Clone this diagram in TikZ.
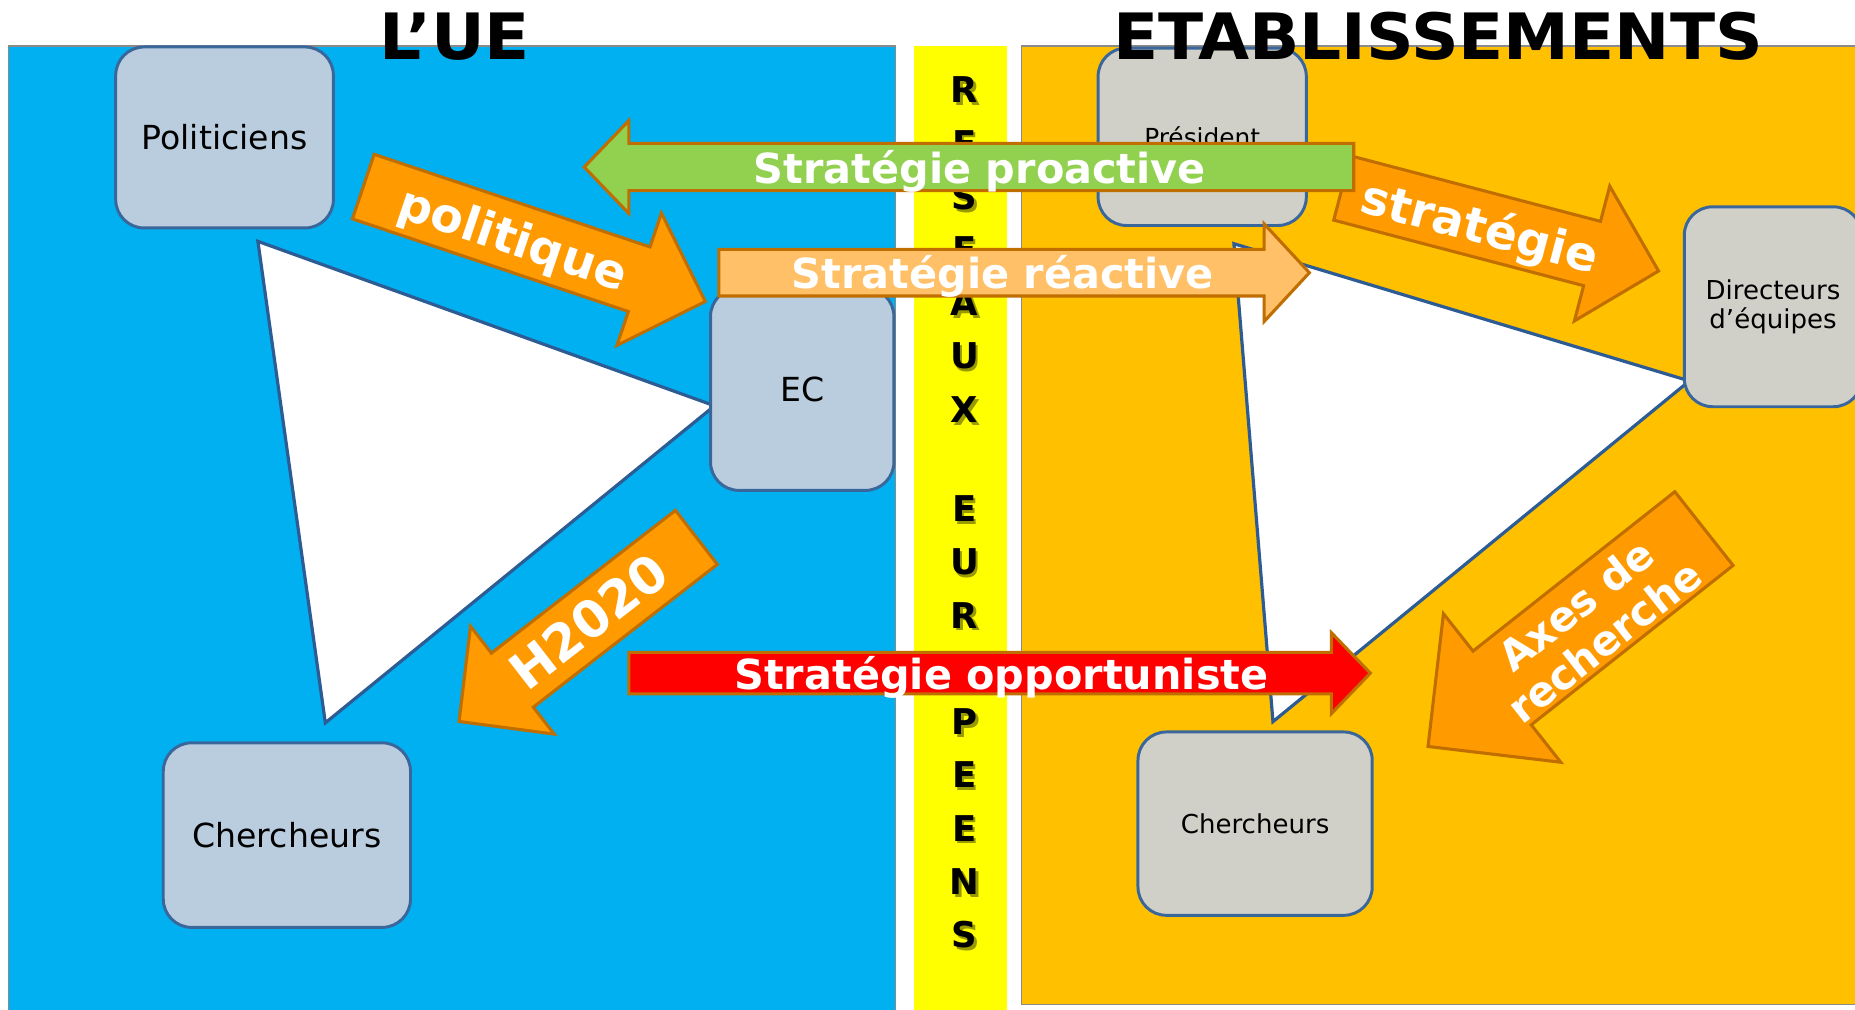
\documentclass[tikz,border=0pt]{standalone}
\usepackage{fontspec}
\setmainfont{DejaVu Sans}
\definecolor{panelblue}{HTML}{00B0F0}
\definecolor{panelorange}{HTML}{FFC000}
\definecolor{stripyellow}{HTML}{FFFF00}
\definecolor{panelgray}{HTML}{8A8A8A}
\definecolor{boxblue}{HTML}{B9CDDF}
\definecolor{boxgray}{HTML}{D1D0C8}
\definecolor{boxline}{HTML}{3A679B}
\definecolor{triline}{HTML}{2D5C94}
\definecolor{arroworange}{HTML}{FF9A00}
\definecolor{arrowline}{HTML}{C06E00}
\definecolor{arrowgreen}{HTML}{92D050}
\definecolor{arrowlight}{HTML}{FFC068}
\definecolor{arrowred}{HTML}{FF0000}
\tikzset{
  panel/.style={draw=panelgray, line width=1.2pt},
  box/.style={draw=boxline, line width=2.5pt, rounded corners=24pt, inner sep=0pt, align=center, text=black},
  leftbox/.style={box, fill=boxblue},
  rightbox/.style={box, fill=boxgray},
  tri/.style={draw=triline, line width=2.7pt, fill=white, line join=miter},
  blockarrow/.style={draw=arrowline, line width=2.6pt, line join=miter},
  atext/.style={text=white, font=\bfseries\fontsize{35}{40}\selectfont, inner sep=0pt},
  bigatext/.style={atext, font=\bfseries\fontsize{40}{44}\selectfont},
  letter/.style={font=\bfseries\fontsize{30}{32}\selectfont, inner sep=0pt},
  lettershadow/.style={letter, text=black, opacity=0.4},
  titletext/.style={font=\bfseries\fontsize{54}{60}\selectfont, inner sep=0pt, anchor=base, xscale=1.035},
}
\begin{document}
\begin{tikzpicture}[x=1pt,y=-1pt]
\useasboundingbox (0,0) rectangle (1568,853);
\clip (0,0) rectangle (1568,853);
\fill[white] (0,0) rectangle (1568,853);
% panels
\path[panel, fill=panelblue] (7,39) rectangle (757,870);
\fill[stripyellow] (772.6,39) rectangle (851,870);
\path[panel, fill=panelorange] (863.6,39) rectangle (1590,849);
% triangles
\draw[tri] (218,204) -- (604,343) -- (275,611) -- cycle;
\draw[tri] (1043,206) -- (1428,322) -- (1076,610) -- cycle;
% boxes
\node[leftbox, minimum width=184pt, minimum height=153pt, font=\fontsize{28}{33}\selectfont] (pol) at (189.8,116.2) {Politiciens};
\node[leftbox, minimum width=155pt, minimum height=171pt, font=\fontsize{28}{33}\selectfont] (ec) at (678.1,329) {EC};
\node[leftbox, minimum width=209pt, minimum height=156pt, font=\fontsize{28}{33}\selectfont] (cherL) at (242.5,705.9) {Chercheurs};
\node[rightbox, minimum width=176pt, minimum height=150pt, font=\fontsize{21}{25}\selectfont] (pres) at (1016.2,115.6) {Président};
\node[rightbox, minimum width=150pt, minimum height=169pt, font=\fontsize{22}{24.6}\selectfont] (dir) at (1498.7,259.3) {Directeurs\\d’équipes};
\node[rightbox, minimum width=198pt, minimum height=155pt, font=\fontsize{22}{26}\selectfont] (cherR) at (1060.9,696.2) {Chercheurs};
% titles
\node[titletext] (tue) at (384.3,50.2) {L’UE};
\node[titletext] (tetab) at (1215.5,50.2) {ETABLISSEMENTS};
% vertical letters
\foreach \l/\yy [count=\i] in {R/76,E/121,S/166,E/211,A/256,U/301,X/346,E/430,U/475,R/520,O/565,P/610,E/655,E/700,N/745,S/790} {
  \node[lettershadow] (sh\i) at (817.4,\yy+2.4) {\l};
  \node[letter] (lt\i) at (815.2,\yy) {\l};
}
% politique
\begin{scope}[shift={(307.1,157.7)}, rotate=-18.57]
  \draw[blockarrow, fill=arroworange] (0,-28.8) -- (246,-28.8) -- (246,-59) -- (305,0) -- (246,59) -- (246,28.8) -- (0,28.8) -- cycle;
  \node[bigatext, rotate=-18.57] (tpol) at (134,4) {politique};
\end{scope}
% H2020
\begin{scope}[shift={(588.65,454.25)}, rotate=-142.2]
  \draw[blockarrow, fill=arroworange] (0,-28.9) -- (196.9,-28.9) -- (196.9,-57.7) -- (253.9,0) -- (196.9,57.7) -- (196.9,28.9) -- (0,28.9) -- cycle;
  \node[bigatext, font=\bfseries\fontsize{43}{46}\selectfont, rotate=37.8] (th) at (115.5,0) {H2020};
\end{scope}
% strategie
\begin{scope}[shift={(1134.5,158.9)}, rotate=-14.7]
  \draw[blockarrow, fill=arroworange] (0,-28.1) -- (218.4,-28.1) -- (218.4,-58.9) -- (276.5,0) -- (218.4,58.9) -- (218.4,28.1) -- (0,28.1) -- cycle;
  \node[bigatext, rotate=-14.7] (tstr) at (121,4.5) {stratégie};
\end{scope}
% axes de recherche
\begin{scope}[shift={(1440.3,446.8)}, rotate=-141.7]
  \draw[blockarrow, fill=arroworange] (0,-39.7) -- (217.4,-39.7) -- (217.4,-80) -- (297.2,0) -- (217.4,80) -- (217.4,39.7) -- (0,39.7) -- cycle;
  \node[atext, align=center, font=\bfseries\fontsize{35}{39}\selectfont, rotate=38.3] (tax) at (125,-3) {Axes de\\recherche};
\end{scope}
% proactive
\draw[blockarrow, fill=arrowgreen] (1144.3,121.2) -- (531.5,121.2) -- (531.5,102) -- (493.8,141.2) -- (531.5,180.4) -- (531.5,161.2) -- (1144.3,161.2) -- cycle;
\node[atext, anchor=base] (tpro) at (828.3,155) {Stratégie proactive};
% reactive
\draw[blockarrow, fill=arrowlight] (607.7,210.8) -- (1068.6,210.8) -- (1068.6,189.3) -- (1106.8,230.5) -- (1068.6,271.7) -- (1068.6,250.2) -- (607.7,250.2) -- cycle;
\node[atext, anchor=base] (trea) at (847.7,244) {Stratégie réactive};
% opportuniste
\draw[blockarrow, fill=arrowred] (531.5,551.5) -- (1125.3,551.5) -- (1125.3,534.7) -- (1158.3,569) -- (1125.3,603.3) -- (1125.3,586.5) -- (531.5,586.5) -- cycle;
\node[atext, anchor=base] (topp) at (846.5,582.6) {Stratégie opportuniste};
\end{tikzpicture}
\end{document}
